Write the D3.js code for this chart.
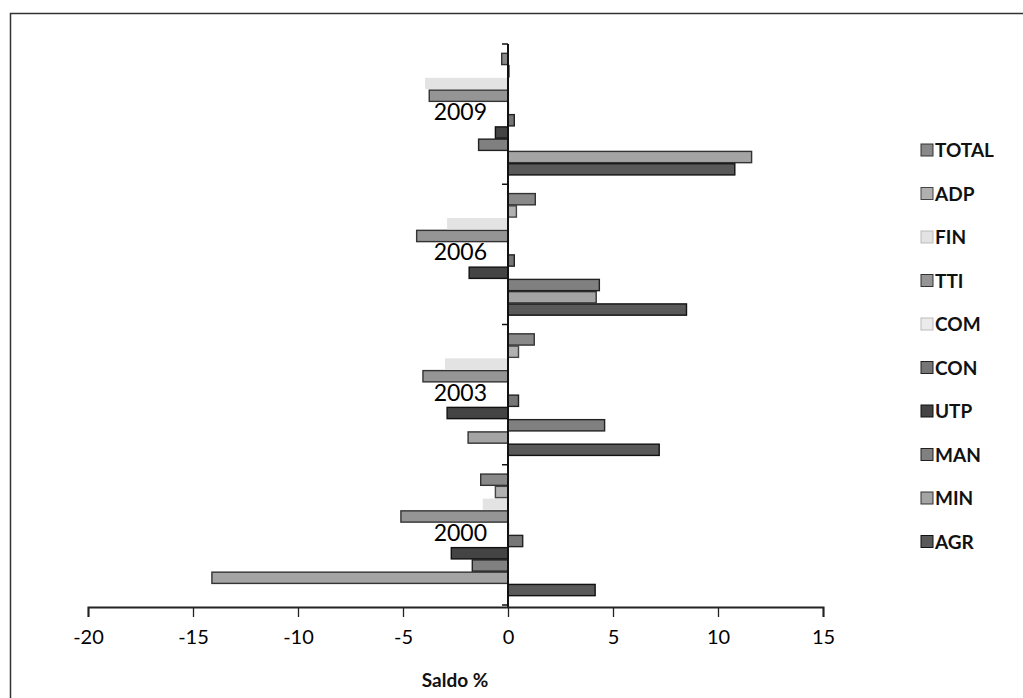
<!DOCTYPE html>
<html>
<head>
<meta charset="utf-8">
<script src="https://cdn.jsdelivr.net/npm/d3@7"></script>
<style>
  body { margin: 0; background: #fff; }
  svg { font-family: Lato, "Open Sans", sans-serif; }
</style>
</head>
<body>
<svg id="chart"></svg>
<script>
// years, bottom group first
var years = ['2000', '2003', '2006', '2009']
// sectors, bottom bar inside a group first
var sectors = ['AGR', 'MIN', 'MAN', 'UTP', 'CON', 'COM', 'TTI', 'FIN', 'ADP', 'TOTAL']

// saldo % per sector, same order as years
var AGR   = [4.15, 7.2, 8.5, 10.8]
var MIN   = [-14.1, -1.9, 4.2, 11.6]
var MAN   = [-1.7, 4.6, 4.35, -1.4]
var UTP   = [-2.7, -2.9, -1.85, -0.6]
var CON   = [0.7, 0.5, 0.3, 0.3]
var COM   = [0.1, 0.05, 0.05, 0.1]
var TTI   = [-5.1, -4.05, -4.35, -3.75]
var FIN   = [-1.2, -3.0, -2.9, -3.95]
var ADP   = [-0.6, 0.5, 0.4, 0.05]
var TOTAL = [-1.3, 1.25, 1.3, -0.3]

var xTicks = [-20, -15, -10, -5, 0, 5, 10, 15]

var seriesValues = { AGR, MIN, MAN, UTP, CON, COM, TTI, FIN, ADP, TOTAL }

// grey tones roughly matching the scanned fills
var fills = {
  AGR: '#595959', MIN: '#a4a4a4', MAN: '#808080', UTP: '#444444', CON: '#767676',
  COM: '#ebebeb', TTI: '#959595', FIN: '#e3e3e3', ADP: '#b0b0b0', TOTAL: '#898989'
}
var strokes = {
  AGR: '#111', MIN: '#333', MAN: '#222', UTP: '#111', CON: '#222',
  COM: 'none', TTI: '#333', FIN: 'none', ADP: '#444', TOTAL: '#333'
}

var width = 1023
var height = 698

var svg = d3.select('#chart').attr('width', width).attr('height', height)

// frame (only top and left edges show in the scan)
svg.append('path')
  .attr('d', 'M10.5,' + height + 'V13.5H' + width)
  .attr('fill', 'none')
  .attr('stroke', '#333')
  .attr('stroke-width', 1.5)

var x = d3.scaleLinear().domain([-20, 15]).range([88, 823])

var y0 = d3.scaleBand()
  .domain(years)
  .range([605, 44])

var y1 = d3.scaleBand()
  .domain(sectors)
  .range([y0.bandwidth(), 0])
  .paddingOuter(0.72)

var groups = svg.append('g').selectAll('g')
  .data(years)
  .join('g')
  .attr('transform', d => 'translate(0,' + y0(d) + ')')

groups.selectAll('rect')
  .data((yr, i) => sectors.map(s => ({ key: s, value: seriesValues[s][i] })))
  .join('rect')
  .attr('x', d => x(Math.min(0, d.value)))
  .attr('width', d => Math.abs(x(d.value) - x(0)))
  .attr('y', d => y1(d.key) + 0.5)
  .attr('height', y1.bandwidth() - 1)
  .attr('fill', d => fills[d.key])
  .attr('stroke', d => strokes[d.key])
  .attr('stroke-width', 1.4)

// year labels sit left of the axis
groups.append('text')
  .attr('x', x(0) - 21)
  .attr('y', y0.bandwidth() / 2 + 6)
  .attr('text-anchor', 'end')
  .attr('font-size', 23)
  .attr('fill', '#000')
  .text(d => d)

// vertical axis with small ticks at group boundaries
var yAxis = svg.append('g')
yAxis.append('line')
  .attr('x1', x(0)).attr('x2', x(0))
  .attr('y1', 44).attr('y2', 607)
  .attr('stroke', '#111').attr('stroke-width', 2)
yAxis.selectAll('line.tick')
  .data(years.concat(['top']))
  .join('line')
  .attr('class', 'tick')
  .attr('x1', x(0) - 6).attr('x2', x(0))
  .attr('y1', d => d === 'top' ? 44 : y0(d) + y0.bandwidth())
  .attr('y2', d => d === 'top' ? 44 : y0(d) + y0.bandwidth())
  .attr('stroke', '#111').attr('stroke-width', 1.5)

// horizontal axis
var xAxis = svg.append('g')
  .attr('transform', 'translate(0,607)')
  .call(d3.axisBottom(x).tickValues(xTicks).tickSize(10).tickSizeOuter(10).tickPadding(13))
xAxis.select('.domain').attr('stroke', '#222').attr('stroke-width', 2)
xAxis.selectAll('.tick line').attr('stroke', '#222').attr('stroke-width', 1.3)
xAxis.selectAll('.tick text')
  .attr('font-size', 20)
  .attr('font-family', 'Lato, sans-serif')
  .attr('fill', '#000')
  .text(d => d)

svg.append('text')
  .attr('x', 455)
  .attr('y', 687)
  .attr('text-anchor', 'middle')
  .attr('font-size', 19)
  .attr('font-weight', 'bold')
  .attr('fill', '#111')
  .text('Saldo %')

// legend, TOTAL on top
var legend = svg.append('g').attr('transform', 'translate(921,150)')
var legendItems = legend.selectAll('g')
  .data(sectors.slice().reverse())
  .join('g')
  .attr('transform', (d, i) => 'translate(0,' + i * 43.5 + ')')

legendItems.append('rect')
  .attr('x', 0).attr('y', -6)
  .attr('width', 12).attr('height', 12)
  .attr('fill', d => fills[d])
  .attr('stroke', d => strokes[d] === 'none' ? '#bbb' : strokes[d])

legendItems.append('text')
  .attr('x', 14)
  .attr('y', 7)
  .attr('font-size', 19)
  .attr('font-weight', 'bold')
  .attr('fill', '#111')
  .text(d => d)
</script>
</body>
</html>
